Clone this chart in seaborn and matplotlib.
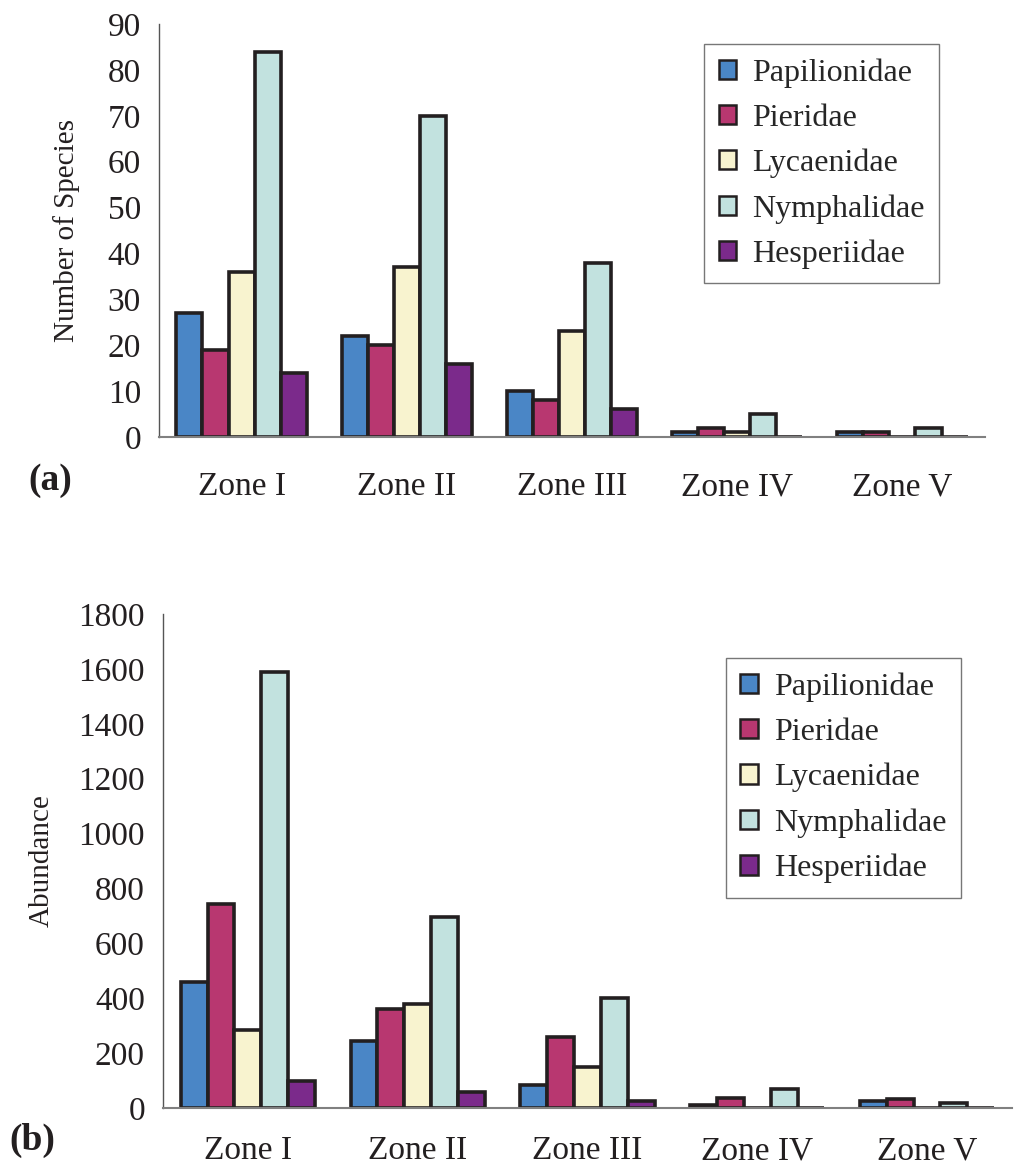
import matplotlib
matplotlib.use("Agg")
import matplotlib.pyplot as plt
import seaborn as sns
import pandas as pd

zones = ["Zone I", "Zone II", "Zone III", "Zone IV", "Zone V"]
families = ["Papilionidae", "Pieridae", "Lycaenidae", "Nymphalidae", "Hesperiidae"]
colors = ["#4a86c6", "#b83770", "#f8f3cf", "#c2e2df", "#7b2a8b"]

# number of species, one list per family (Zone I..V)
species_pap = [27, 22, 10, 1, 1]
species_pie = [19, 20, 8, 2, 1]
species_lyc = [36, 37, 23, 1, 0]
species_nym = [84, 70, 38, 5, 2]
species_hes = [14, 16, 6, 0, 0]

# abundance
abund_pap = [460, 245, 85, 10, 25]
abund_pie = [745, 360, 260, 35, 33]
abund_lyc = [285, 380, 150, 0, 0]
abund_nym = [1590, 695, 400, 70, 18]
abund_hes = [100, 60, 25, 0, 0]


def to_long(series, name):
    rows = []
    for fam, vals in zip(families, series):
        for z, v in zip(zones, vals):
            rows.append({"zone": z, "family": fam, name: v})
    return pd.DataFrame(rows)


def draw_panel(ax, df, col, ymax, ystep, ylabel, leg_anchor, xpad, ylabpad):
    sns.barplot(data=df, x="zone", y=col, hue="family", order=zones,
                hue_order=families, palette=colors, width=0.79,
                edgecolor="#231f20", linewidth=2.6, saturation=1, ax=ax)
    ax.set_xlim(-0.5, 4.5)
    ax.set_ylim(0, ymax)
    ax.set_yticks(range(0, ymax + 1, ystep))
    ax.tick_params(axis="y", labelsize=24, length=8, width=1, color="#555555",
                   pad=5, labelcolor="#231f20")
    ax.set_xticks(range(5))
    ax.set_xticklabels(zones)
    ax.tick_params(axis="x", which="major", length=0, pad=xpad, labelsize=24,
                   labelcolor="#231f20")
    # category separators like the original spreadsheet chart
    ax.set_xticks([i - 0.5 for i in range(6)], minor=True)
    ax.tick_params(axis="x", which="minor", length=9, width=1.3, color="#808080")
    ax.set_xlabel("")
    ax.set_ylabel(ylabel, fontsize=21, color="#231f20", labelpad=ylabpad)
    for s in ["top", "right"]:
        ax.spines[s].set_visible(False)
    ax.spines["left"].set_color("#555555")
    ax.spines["left"].set_linewidth(1)
    ax.spines["bottom"].set_color("#808080")
    ax.spines["bottom"].set_linewidth(1.5)
    leg = ax.legend(loc="upper left", bbox_to_anchor=leg_anchor, borderaxespad=0,
                    fontsize=23, frameon=True, fancybox=False, handlelength=0.55,
                    handleheight=0.55, handletextpad=0.5, labelspacing=0.5,
                    borderpad=0.45)
    leg.get_frame().set_edgecolor("#555555")
    leg.get_frame().set_linewidth(1)
    for h in leg.legend_handles:
        h.set_linewidth(1.8)


sns.set_style("white")
plt.rcParams["font.family"] = ["Liberation Serif", "DejaVu Serif"]

fig = plt.figure(figsize=(10.14, 11.65), dpi=100)
ax1 = fig.add_axes([0.1568, 0.6249, 0.8146, 0.3545])
ax2 = fig.add_axes([0.1607, 0.0489, 0.8373, 0.4240])

species = to_long([species_pap, species_pie, species_lyc, species_nym, species_hes], "species")
abundance = to_long([abund_pap, abund_pie, abund_lyc, abund_nym, abund_hes], "abundance")

draw_panel(ax1, species, "species", 90, 10, "Number of Species", (0.66, 0.952), 25, 20)
draw_panel(ax2, abundance, "abundance", 1800, 200, "Abundance", (0.663, 0.911), 20, 17)

fig.text(0.028, 1 - 480 / 1165, "(a)", fontsize=27, fontweight="bold",
         va="center", ha="left", color="#231f20")
fig.text(0.009, 1 - 1140 / 1165, "(b)", fontsize=27, fontweight="bold",
         va="center", ha="left", color="#231f20")

fig.savefig("out.png", dpi=100)
